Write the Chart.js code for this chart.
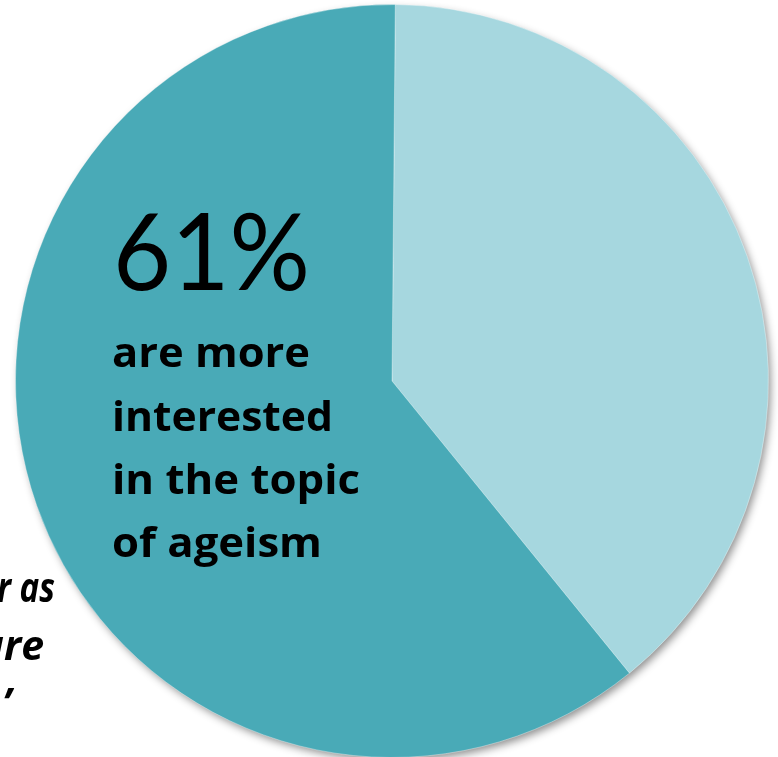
<!DOCTYPE html>
<html>
<head>
<meta charset="utf-8">
<script src="https://cdn.jsdelivr.net/npm/chart.js@4/dist/chart.umd.min.js"></script>
<style>
  html, body { margin: 0; padding: 0; width: 778px; height: 757px; overflow: hidden; background: #fff; }
  #wrap { position: absolute; left: 0; top: 0; width: 778px; height: 772px; }
  #ov { position: absolute; left: 0; top: 0; width: 778px; height: 757px; pointer-events: none; }
</style>
</head>
<body>
<div id="wrap"><canvas id="c"></canvas></div>
<svg id="ov" width="778" height="757" xmlns="http://www.w3.org/2000/svg">
  <g fill="#000">
    <text x="113" y="290" font-family="Lato, 'Open Sans', sans-serif" font-size="107" textLength="197" lengthAdjust="spacingAndGlyphs">61%</text>
    <g font-family="'Open Sans', Lato, sans-serif" font-weight="700" font-size="42">
      <text x="112" y="367" textLength="198" lengthAdjust="spacingAndGlyphs">are more</text>
      <text x="112" y="431" textLength="221" lengthAdjust="spacingAndGlyphs">interested</text>
      <text x="112" y="494" textLength="248" lengthAdjust="spacingAndGlyphs">in the topic</text>
      <text x="112" y="557" textLength="210" lengthAdjust="spacingAndGlyphs">of ageism</text>
    </g>
    <g font-family="'Open Sans', Lato, sans-serif" font-weight="700" font-style="italic" font-size="41">
      <text x="-3" y="602" textLength="58" lengthAdjust="spacingAndGlyphs">r as</text>
      <text x="44" y="660" text-anchor="end">are</text>
      <text x="11" y="718" text-anchor="end">’</text>
    </g>
  </g>
</svg>
<script>
const labels = ['Not more interested', 'More interested in the topic of ageism'];
const values = [39, 61];
const colors = ['#A6D7DF', '#49AAB7'];

const shadowPlugin = {
  id: 'pieShadow',
  beforeDatasetsDraw(chart) {
    const arc = chart.getDatasetMeta(0).data[0];
    if (!arc) return;
    const ctx = chart.ctx;
    ctx.save();
    ctx.shadowColor = 'rgba(0,0,0,0.45)';
    ctx.shadowBlur = 9;
    ctx.shadowOffsetX = 3;
    ctx.shadowOffsetY = 4;
    ctx.fillStyle = '#49AAB7';
    ctx.beginPath();
    ctx.arc(arc.x, arc.y, arc.outerRadius - 1, 0, Math.PI * 2);
    ctx.fill();
    ctx.restore();
  }
};

new Chart(document.getElementById('c'), {
  type: 'pie',
  data: {
    labels: labels,
    datasets: [{
      data: values,
      backgroundColor: colors,
      borderColor: 'rgba(255,255,255,0.35)',
      borderWidth: 1
    }]
  },
  options: {
    responsive: true,
    maintainAspectRatio: false,
    animation: false,
    rotation: 0.5,
    layout: { padding: { left: 15, top: 4, right: 9, bottom: 14 } },
    plugins: {
      legend: { display: false },
      tooltip: { enabled: false }
    }
  },
  plugins: [shadowPlugin]
});
</script>
</body>
</html>
